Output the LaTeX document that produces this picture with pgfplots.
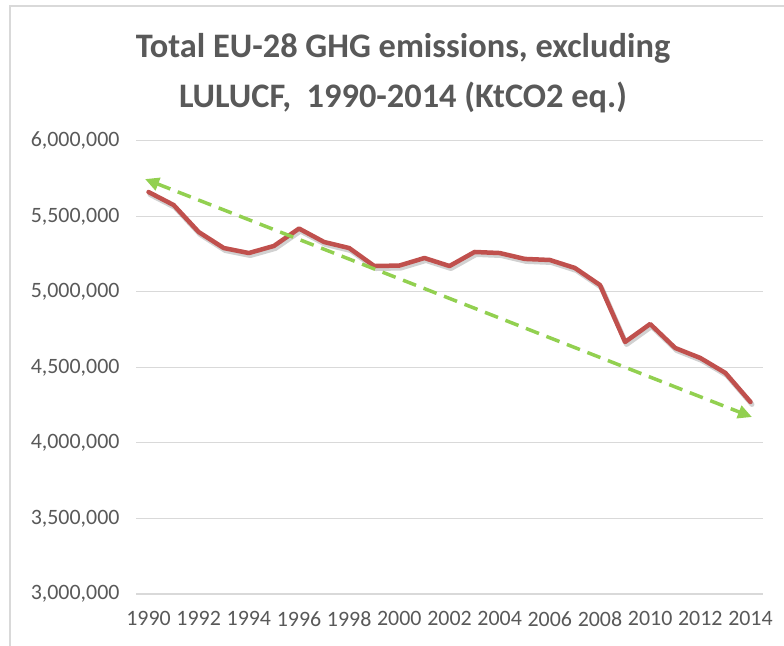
\documentclass[border=0pt]{standalone}
\usepackage{fontspec}
\setmainfont{Carlito}
\usepackage{pgfplots}
\pgfplotsset{compat=1.18}
\usetikzlibrary{arrows.meta}
\definecolor{txtgray}{HTML}{595959}
\definecolor{gridgray}{HTML}{D9D9D9}
\definecolor{exred}{HTML}{C0504D}
\definecolor{exgreen}{HTML}{92D050}
\begin{document}
\begin{tikzpicture}[x=1bp,y=1bp]
\useasboundingbox (0,0) rectangle (784,646);
\fill[white] (0,0) rectangle (784,646);
% frame of the chart area
\draw[gridgray, line width=2bp] (10,0) -- (10,640) -- (784,640);
% title
\node[txtgray, font=\fontsize{34.5}{50}\selectfont\bfseries, align=center] at (403,573)
  {Total EU-28 GHG emissions, excluding\\LULUCF,\ \ 1990-2014 (KtCO2 eq.)};
\begin{axis}[
  at={(136bp,52bp)}, anchor=south west,
  scale only axis, width=627bp, height=453bp,
  xmin=1989.5, xmax=2014.5,
  ymin=3000000, ymax=6000000,
  xtick={1990,1992,...,2014},
  xticklabels={1990,1992,1994,1996,1998,2000,2002,2004,2006,2008,2010,2012,2014},
  ytick={3000000,3500000,4000000,4500000,5000000,5500000,6000000},
  yticklabels={{3,000,000},{3,500,000},{4,000,000},{4,500,000},{5,000,000},{5,500,000},{6,000,000}},
  axis x line*=bottom, axis y line*=left,
  x axis line style={gridgray, line width=1.5bp, -},
  y axis line style={draw=none},
  ymajorgrids, grid style={gridgray, line width=1bp},
  major tick length=0pt,
  tick style={draw=none},
  scaled y ticks=false,
  ticklabel style={font=\fontsize{22}{26}\selectfont, text=txtgray},
  xticklabel style={yshift=-14bp},
  yticklabel style={xshift=-13bp},
  clip=false,
]
\addplot[black, opacity=0.18, line width=5bp, line join=round, line cap=round, xshift=1.5bp, yshift=-2.5bp] coordinates {
(1990,5662000) (1991,5576000) (1992,5397000) (1993,5291000) (1994,5258000)
(1995,5305000) (1996,5420000) (1997,5331000) (1998,5291000) (1999,5172000)
(2000,5175000) (2001,5225000) (2002,5172000) (2003,5265000) (2004,5258000)
(2005,5219000) (2006,5212000) (2007,5159000) (2008,5046000) (2009,4669000)
(2010,4788000) (2011,4629000) (2012,4563000) (2013,4464000) (2014,4272000)
};
\addplot[exred, line width=4.5bp, line join=round, line cap=round] coordinates {
(1990,5662000) (1991,5576000) (1992,5397000) (1993,5291000) (1994,5258000)
(1995,5305000) (1996,5420000) (1997,5331000) (1998,5291000) (1999,5172000)
(2000,5175000) (2001,5225000) (2002,5172000) (2003,5265000) (2004,5258000)
(2005,5219000) (2006,5212000) (2007,5159000) (2008,5046000) (2009,4669000)
(2010,4788000) (2011,4629000) (2012,4563000) (2013,4464000) (2014,4272000)
};
\addplot[exgreen, line width=3.5bp, dash pattern=on 14bp off 8bp,
  {Triangle[length=14bp,width=13bp]}-{Triangle[length=14bp,width=13bp]}] coordinates {
(1989.86,5748000) (2014.06,4172000)
};
\end{axis}
\end{tikzpicture}
\end{document}
